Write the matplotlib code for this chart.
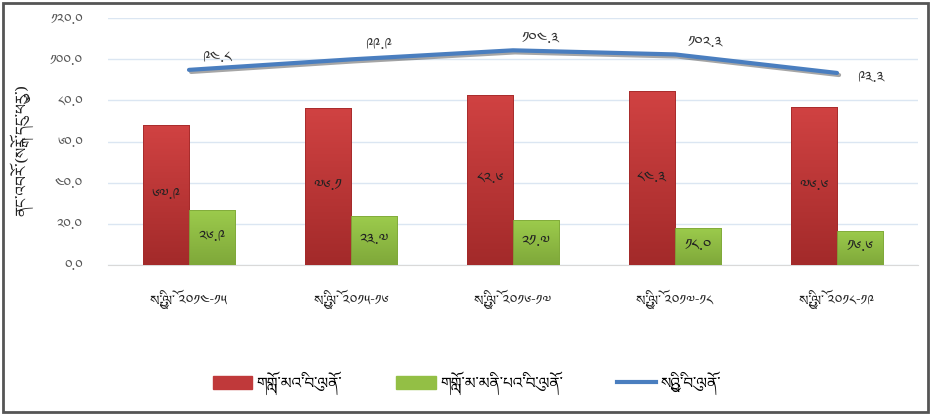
import matplotlib
matplotlib.use("Agg")
import matplotlib.pyplot as plt
from matplotlib.patches import Rectangle
from matplotlib.lines import Line2D
import matplotlib.patheffects as pe
import numpy as np

# data
years = ["2014-15", "2015-16", "2016-17", "2017-18", "2018-19"]
red_vals = [67.9, 76.1, 82.6, 84.3, 76.6]
green_vals = [26.9, 23.7, 21.7, 18.0, 16.6]
total_vals = [94.8, 99.9, 104.3, 102.3, 93.3]
y_ticks = [0, 20, 40, 60, 80, 100, 120]

legend_names = ["གློག་མའི་བུ་ལོན་", "གློག་མ་མིན་པའི་བུ་ལོན་", "སྤྱིའི་བུ་ལོན་"]
year_prefix = "སྤྱི་ལོ་"
y_title = "ནང་འབོར་(སྒོར་དུང་ཕྱུར་)"

plt.rcParams['font.family'] = ['Noto Serif Tibetan', 'Noto Sans Tibetan', 'Jomolhari',
                               'Microsoft Himalaya', 'DejaVu Sans']

TIB = str.maketrans("0123456789", "༠༡༢༣༤༥༦༧༨༩")


def tib(s):
    """阿拉伯数字转藏文数字"""
    return str(s).translate(TIB)


def grad_bars(ax, xs, heights, width, top, bottom):
    """画带渐变的柱子"""
    cmap = matplotlib.colors.LinearSegmentedColormap.from_list("g", [bottom, top])
    g = np.linspace(0, 1, 64).reshape(-1, 1)
    bars = ax.bar(xs, heights, width, color="none", edgecolor=bottom, linewidth=0.6, zorder=3)
    for b in bars:
        im = ax.imshow(g, cmap=cmap, origin="lower", aspect="auto", zorder=2.9,
                       extent=(b.get_x(), b.get_x() + b.get_width(), 0, b.get_height()))
        im.set_clip_path(b)
    return bars


fig = plt.figure(figsize=(9.34, 4.18), dpi=100)
ax = fig.add_axes([108 / 934, 1 - 265 / 418, 810 / 934, 247 / 418])

x = np.arange(len(years))
w = 0.284
red = "#c0393a"
green = "#93bf45"
blue = "#4a7ebf"

grad_bars(ax, x - w / 2, red_vals, w, "#d04242", "#a32a2a")
grad_bars(ax, x + w / 2, green_vals, w, "#9ccb4c", "#7fa83a")

for i in range(len(x)):
    ax.text(x[i] - w / 2, red_vals[i] / 2, tib(f"{red_vals[i]:.1f}"), ha="center",
            va="center", fontsize=11, color="#222222", zorder=5)
    ax.text(x[i] + w / 2, green_vals[i] / 2, tib(f"{green_vals[i]:.1f}"), ha="center",
            va="center", fontsize=11, color="#222222", zorder=5)

ax.plot(x, total_vals, color=blue, linewidth=3, solid_capstyle="round", zorder=4,
        path_effects=[pe.SimpleLineShadow(offset=(1.5, -1.5), alpha=0.35), pe.Normal()])

offsets = [(20, 8), (20, 10), (20, 8), (22, 8), (24, -4)]
for i in range(len(x)):
    ax.annotate(tib(f"{total_vals[i]:.1f}"), (x[i], total_vals[i]), xytext=offsets[i],
                textcoords="offset points", ha="center", va="center", fontsize=11,
                color="#333333", zorder=5)

ax.set_xlim(-0.5, len(years) - 0.5)
ax.set_ylim(0, 120)
ax.set_yticks(y_ticks)
ax.set_yticklabels([tib(f"{t:.1f}") for t in y_ticks], fontsize=10, color="#555555")
ax.set_xticks(x)
ax.set_xticklabels([year_prefix + " " + tib(y) for y in years], fontsize=10, color="#222222")
ax.tick_params(axis="both", length=0)
ax.tick_params(axis="y", pad=18)
ax.tick_params(axis="x", pad=18)
ax.grid(axis="y", color="#dbe6f2", linewidth=1, zorder=0)
ax.set_axisbelow(True)
for s in ["top", "right", "left"]:
    ax.spines[s].set_visible(False)
ax.spines["bottom"].set_color("#d9d9d9")

fig.text(22 / 934, 1 - 150 / 418, y_title, rotation=90, ha="center", va="center",
         fontsize=11, color="#222222")

handles = [Rectangle((0, 0), 1, 1, color=red), Rectangle((0, 0), 1, 1, color=green),
           Line2D([0], [0], color=blue, linewidth=3)]
fig.legend(handles, legend_names, loc="center", bbox_to_anchor=(0.5, 1 - 383 / 418),
           ncol=3, frameon=False, fontsize=11, handlelength=2.6, handleheight=1.0,
           columnspacing=3.5, handletextpad=0.3)

fig.add_artist(Rectangle((3 / 934, 6 / 418), 925 / 934, 409 / 418, transform=fig.transFigure,
                         fill=False, edgecolor="#555555", linewidth=2))

fig.savefig("out.png", dpi=100)
